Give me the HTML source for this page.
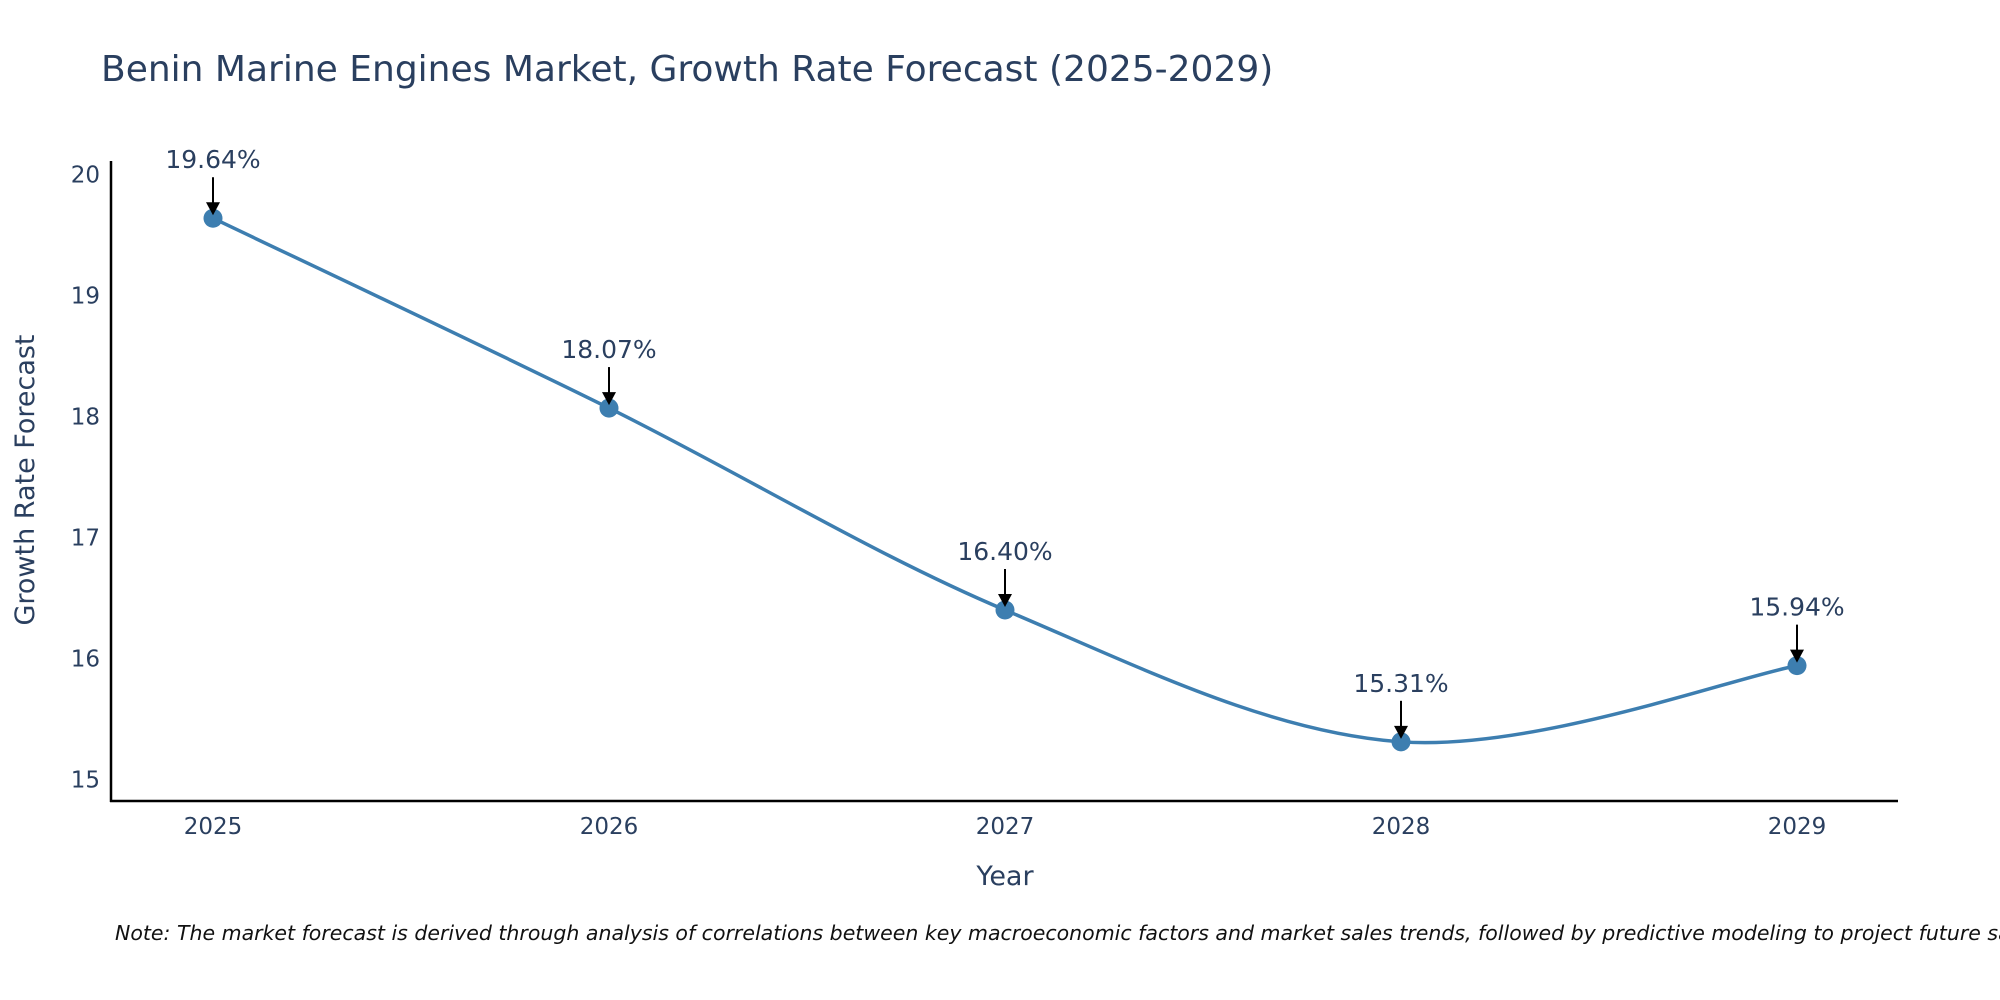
<!DOCTYPE html>
<html><head><meta charset="utf-8"><style>
body{margin:0;background:#fff;}
svg{display:block;font-family:"DejaVu Sans","Liberation Sans",sans-serif;}
</style></head><body>
<svg id="chart" width="2000" height="1000" viewBox="0 0 2000 1000">
<text x="101" y="81" font-size="36" fill="#2a3f5f">Benin Marine Engines Market, Growth Rate Forecast (2025-2029)</text>
<g id="yticks"></g>
<g id="xticks"></g>
<line x1="111" y1="161" x2="111" y2="802" stroke="#000" stroke-width="2.5"/>
<line x1="110" y1="801" x2="1898" y2="801" stroke="#000" stroke-width="2.5"/>
<text transform="translate(34,480) rotate(-90)" text-anchor="middle" font-size="27" fill="#2a3f5f">Growth Rate Forecast</text>
<text x="1005" y="885" text-anchor="middle" font-size="27" fill="#2a3f5f">Year</text>
<path id="line" fill="none" stroke="#3d7eb0" stroke-width="3.5"/>
<g id="marks"></g>
<text x="115" y="940" font-size="20.5" font-style="italic" fill="#111">Note: The market forecast is derived through analysis of correlations between key macroeconomic factors and market sales trends, followed by predictive modeling to project future sales.</text>
</svg>
<script>
const years=[2025,2026,2027,2028,2029];
const values=[19.64,18.07,16.40,15.31,15.94];
const labels=["19.64%","18.07%","16.40%","15.31%","15.94%"];
const yTicks=[15,16,17,18,19,20];
const NS="http://www.w3.org/2000/svg";
function xs(i){return 213+(1797-213)*i/(years.length-1);}
function ys(v){return 779.3-(v-15)*(779.3-174.7)/5;}
function mk(t,a,p){const e=document.createElementNS(NS,t);for(const k in a)e.setAttribute(k,a[k]);p.appendChild(e);return e;}
const yt=document.getElementById('yticks');
yTicks.forEach(t=>{const e=mk('text',{x:100,y:ys(t)+8,'text-anchor':'end','font-size':23,fill:'#2a3f5f'},yt);


e.textContent=t;});
const xt=document.getElementById('xticks');
years.forEach((y,i)=>{const e=mk('text',{x:xs(i),y:834,'text-anchor':'middle','font-size':23,fill:'#2a3f5f'},xt);


e.textContent=y;});
const P=values.map((v,i)=>[xs(i),ys(v)]);
let d='M'+P[0][0]+','+P[0][1];
for(let i=0;i<P.length-1;i++){const p0=P[i-1]||P[i],p1=P[i],p2=P[i+1],p3=P[i+2]||P[i+1];const k=1/6;
d+=` C${p1[0]+(p2[0]-p0[0])*k},${p1[1]+(p2[1]-p0[1])*k} ${p2[0]-(p3[0]-p1[0])*k},${p2[1]-(p3[1]-p1[1])*k} ${p2[0]},${p2[1]}`;}
document.getElementById('line').setAttribute('d',d);
const g=document.getElementById('marks');
P.forEach((p,i)=>{
const c=mk('circle',{cx:p[0],cy:p[1],r:9.5,fill:'#3d7eb0'},g);


const a=mk('line',{x1:p[0],y1:p[1]-41,x2:p[0],y2:p[1]-14,stroke:'#000','stroke-width':2},g);


const h=mk('polygon',{points:`${p[0]-7},${p[1]-16} ${p[0]+7},${p[1]-16} ${p[0]},${p[1]-3}`,fill:'#000'},g);


const t=mk('text',{x:p[0],y:p[1]-50,'text-anchor':'middle','font-size':25,fill:'#2a3f5f'},g);


t.textContent=labels[i];
});
</script>
</body></html>
